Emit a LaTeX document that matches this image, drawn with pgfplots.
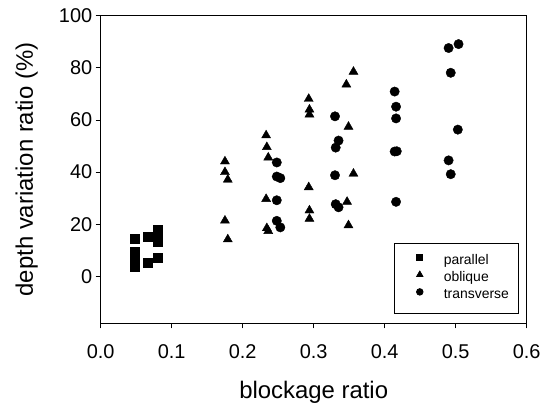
\documentclass[border=0pt]{standalone}
\usepackage{fontspec}
\setmainfont{Liberation Sans}
\usepackage{pgfplots}
\pgfplotsset{compat=1.18}
\begin{document}
\begin{tikzpicture}
\begin{axis}[
  scale only axis,
  width=426bp, height=307.6bp,
  xmin=0, xmax=0.6, ymin=-18, ymax=100,
  xtick={0,0.1,0.2,0.3,0.4,0.5,0.6},
  ytick={0,20,40,60,80,100},
  xtick pos=bottom, ytick pos=left,
  tick align=outside,
  major tick length=5bp,
  axis line style={line width=0.8bp},
  every tick/.style={black, line width=0.8bp},
  /pgf/number format/assume math mode=true,
  xticklabel style={/pgf/number format/fixed, /pgf/number format/precision=1, /pgf/number format/fixed zerofill, yshift=-13bp},
  tick label style={font=\fontsize{20}{24}\selectfont},
  xlabel={blockage ratio},
  ylabel={depth variation ratio (\%)},
  label style={font=\fontsize{24}{28}\selectfont},
  xlabel style={at={(axis description cs:0.5,0)}, anchor=center, yshift=-69.5bp},
  ylabel style={at={(axis description cs:0,0.5)}, anchor=center, yshift=74bp},
  legend style={at={(1,0)}, anchor=south east, xshift=-8.4bp, yshift=10bp,
    font=\fontsize{14}{17}\selectfont, draw=black, line width=0.8bp,
    inner xsep=8bp, inner ysep=10bp, row sep=2.2bp,
    nodes={inner sep=1bp, text height=10bp, text depth=3bp},
    cells={anchor=west}},
  legend image code/.code={\path[draw=none] (0,0) -- (40.6bp,0); \draw[only marks, mark options={scale=0.7}] plot coordinates {(17.6bp,3.5bp)};},
  clip=false,
]
\addplot[only marks, black, mark=square*, mark size=4.4bp] coordinates {
(0.048,14.4) (0.048,9.5) (0.048,6.9) (0.048,5.0) (0.048,3.7)
(0.066,15.3) (0.066,5.3)
(0.080,17.8) (0.080,15.9) (0.080,13.3) (0.080,7.3)
};
\addlegendentry{parallel}
\addplot[only marks, black, mark=triangle*, mark size=5.2bp] coordinates {
(0.175,44.1) (0.175,40.0) (0.179,37.1) (0.175,21.4) (0.179,14.2)
(0.233,54.1) (0.234,49.6) (0.236,45.6) (0.233,29.7) (0.234,18.5) (0.236,17.4)
(0.293,68.1) (0.294,64.0) (0.294,62.1) (0.293,34.2) (0.294,25.3) (0.294,22.1)
(0.356,78.5) (0.346,73.6) (0.349,57.4) (0.356,39.4) (0.347,28.6) (0.349,19.6)
};
\addlegendentry{oblique}
\addplot[only marks, black, mark=*, mark size=4.7bp] coordinates {
(0.248,43.7) (0.248,38.3) (0.253,37.7) (0.248,29.2) (0.248,21.3) (0.253,18.8)
(0.330,61.4) (0.335,52.1) (0.331,49.4) (0.330,38.8) (0.331,27.7) (0.335,26.5)
(0.414,70.9) (0.416,65.1) (0.416,60.6) (0.414,47.9) (0.417,48.0) (0.416,28.6)
(0.490,87.6) (0.504,89.1) (0.493,78.1) (0.503,56.3) (0.490,44.5) (0.493,39.2)
};
\addlegendentry{transverse}
\coordinate (O) at (rel axis cs:0,0);
\coordinate (T) at (rel axis cs:1,1);
\end{axis}
\path ([shift={(-100.7bp,-78.7bp)}]O) rectangle ([shift={(25.3bp,15.7bp)}]T);
\end{tikzpicture}
\end{document}
